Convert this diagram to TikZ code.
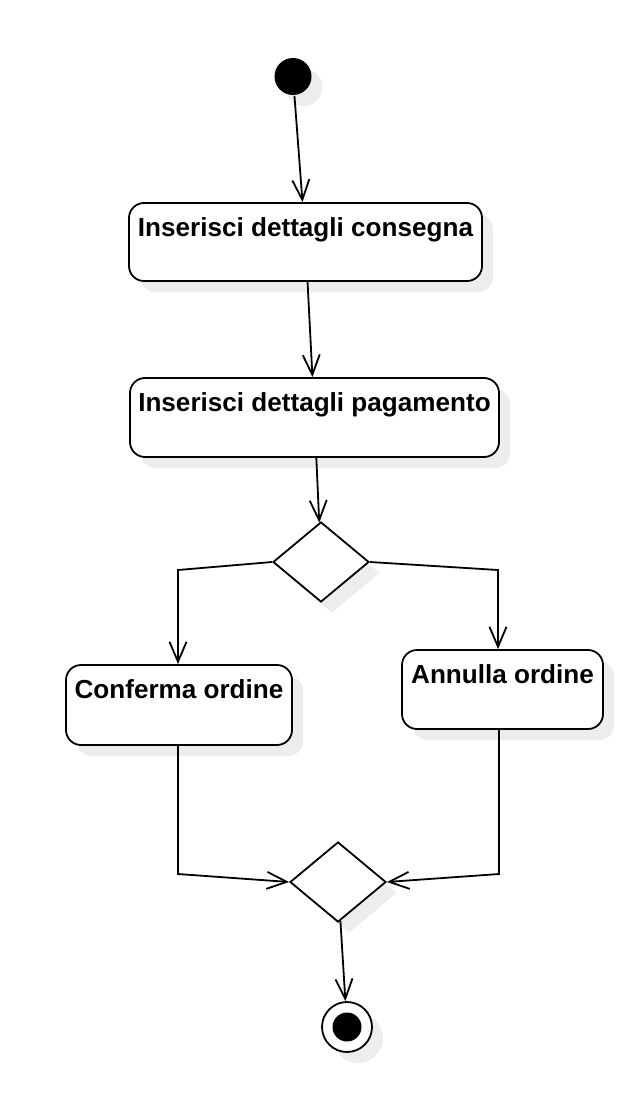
\documentclass[tikz,border=0pt]{standalone}
\usepackage{fontspec}
\setmainfont{Liberation Sans}
\usetikzlibrary{shapes.geometric,arrows.meta,shadows}
\begin{document}
\begin{tikzpicture}[x=1pt,y=-1pt,line width=1.8pt,
    shd/.style={drop shadow={shadow xshift=11pt,shadow yshift=-11pt,fill=black!7,opacity=1}},
    act/.style={draw,fill=white,rounded corners=15pt,inner sep=0pt,shd},
    txt/.style={anchor=north,inner sep=0pt,yshift=-15pt,font=\bfseries\fontsize{26.1}{30}\selectfont},
    dec/.style={draw,diamond,fill=white,minimum width=96pt,minimum height=80pt,inner sep=0pt,shd},
    flow/.style={-{Straight Barb[length=20pt,width=17pt]}}]
      \useasboundingbox (0,0) rectangle (638,1094);
      \node[circle,fill=black,minimum size=37pt,inner sep=0pt,shd] (start) at (293,76.5) {};
      \node[act,minimum width=353pt,minimum height=78pt,
        label={[txt]north:Inserisci dettagli consegna}] (cons) at (305.5,242) {};
      \node[act,minimum width=369pt,minimum height=79pt,
        label={[txt]north:Inserisci dettagli pagamento}] (pag) at (314.5,417.5) {};
      \node[dec] (d1) at (321,562) {};
      \node[act,minimum width=226pt,minimum height=80pt,
        label={[txt]north:Conferma ordine}] (conf) at (179,705) {};
      \node[act,minimum width=201pt,minimum height=79pt,
        label={[txt]north:Annulla ordine}] (ann) at (502.5,689.5) {};
      \node[dec] (d2) at (338,882) {};
      \node[circle,draw,fill=white,minimum size=50pt,inner sep=0pt,shd] (stop) at (347,1027) {};
      \fill (stop.center) circle (14.5);
      \coordinate (b1) at (178,570);
      \coordinate (b2) at (498,570);
      \coordinate (b3) at (178,874);
      \coordinate (b4) at (499,874);
      \draw[flow] (start) -- (cons);
      \draw[flow] (cons) -- (pag);
      \draw[flow] (pag) -- (d1);
      \draw[flow] (d1.west) -- (b1) -- (b1 |- conf.north);
      \draw[flow] (d1.east) -- (b2) -- (b2 |- ann.north);
      \draw[flow] (b3 |- conf.south) -- (b3) -- (d2.west);
      \draw[flow] (b4 |- ann.south) -- (b4) -- (d2.east);
      \draw[flow] (d2) -- (stop);
\end{tikzpicture}
\end{document}
